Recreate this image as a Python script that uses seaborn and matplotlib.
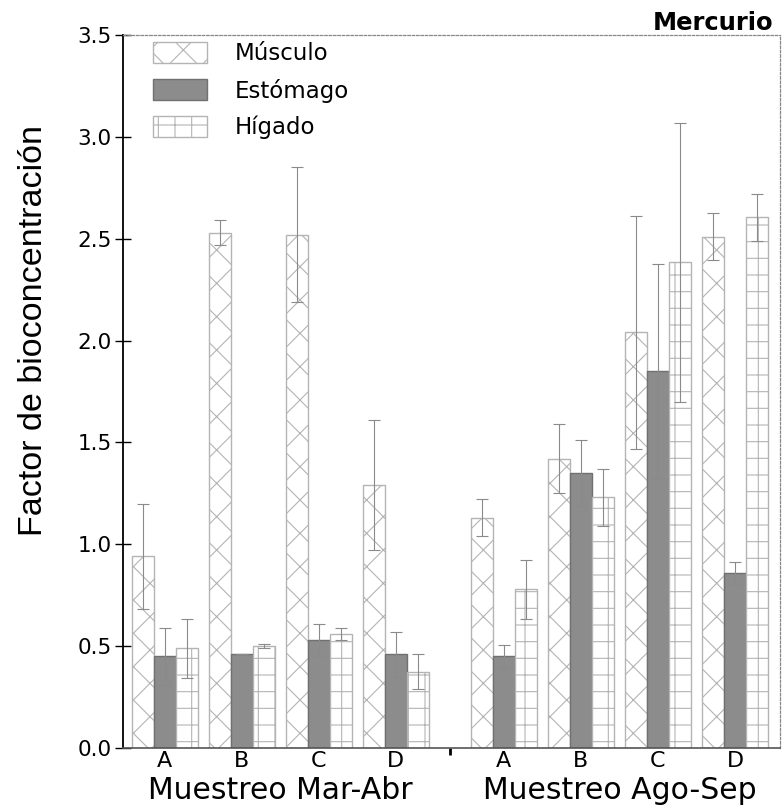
import numpy as np
import pandas as pd
import matplotlib
matplotlib.use("Agg")
import matplotlib.pyplot as plt
from matplotlib.patches import Patch
import seaborn as sns

# Bioconcentration factor of mercury per tissue, site and sampling period
sites = ["A", "B", "C", "D"]
periods = ["Muestreo Mar-Abr", "Muestreo Ago-Sep"]
tissues = ["Músculo", "Estómago", "Hígado"]

musculo_mar = [0.94, 2.53, 2.52, 1.29]
musculo_mar_err = [0.26, 0.06, 0.33, 0.32]
estomago_mar = [0.45, 0.46, 0.53, 0.46]
estomago_mar_err = [0.14, 0.0, 0.08, 0.11]
higado_mar = [0.49, 0.50, 0.56, 0.375]
higado_mar_err = [0.145, 0.01, 0.03, 0.085]

musculo_ago = [1.13, 1.42, 2.04, 2.51]
musculo_ago_err = [0.09, 0.17, 0.57, 0.115]
estomago_ago = [0.45, 1.35, 1.85, 0.86]
estomago_ago_err = [0.055, 0.16, 0.525, 0.055]
higado_ago = [0.78, 1.23, 2.385, 2.605]
higado_ago_err = [0.145, 0.14, 0.685, 0.115]

yticks = [0.0, 0.5, 1.0, 1.5, 2.0, 2.5, 3.0, 3.5]

# Build a long table; the second period is shifted right to leave a gap
period_gap = 1.406
values = {
    periods[0]: [(musculo_mar, musculo_mar_err), (estomago_mar, estomago_mar_err), (higado_mar, higado_mar_err)],
    periods[1]: [(musculo_ago, musculo_ago_err), (estomago_ago, estomago_ago_err), (higado_ago, higado_ago_err)],
}
rows = []
for p_idx, period in enumerate(periods):
    for t_idx, tissue in enumerate(tissues):
        vals, errs = values[period][t_idx]
        for s_idx, site in enumerate(sites):
            pos = s_idx + p_idx * (len(sites) - 1 + period_gap)
            rows.append(dict(periodo=period, sitio=site, tejido=tissue,
                             pos=pos, valor=vals[s_idx], error=errs[s_idx]))
df = pd.DataFrame(rows).sort_values(["tejido", "pos"])

sns.set_theme(style="ticks")
plt.rcParams["font.family"] = ["DejaVu Sans"]
plt.rcParams["hatch.linewidth"] = 0.8
for key in ("text.color", "axes.labelcolor", "xtick.color", "ytick.color"):
    plt.rcParams[key] = "black"

fig = plt.figure(figsize=(7.83, 8.08), dpi=100)
ax = fig.add_axes([0.1571, 0.0743, 0.8391, 0.8824])

face = {"Músculo": "white", "Estómago": "#8c8c8c", "Hígado": "white"}
edge = {"Músculo": "#b4b4b4", "Estómago": "#707070", "Hígado": "#b4b4b4"}
hatch = {"Músculo": "x", "Estómago": "", "Hígado": "+"}

sns.barplot(data=df, x="pos", y="valor", hue="tejido", hue_order=tissues,
            native_scale=True, width=0.857, dodge=True, errorbar=None,
            palette=face, legend=False, ax=ax)

for container, tissue in zip(ax.containers, tissues):
    sub = df[df["tejido"] == tissue].sort_values("pos")
    for bar, err in zip(container, sub["error"]):
        bar.set_facecolor(face[tissue])
        bar.set_edgecolor(edge[tissue])
        bar.set_hatch(hatch[tissue])
        bar.set_linewidth(1.0)
        ax.errorbar(bar.get_x() + bar.get_width() / 2, bar.get_height(),
                    yerr=err, fmt="none", ecolor="#8a8a8a", elinewidth=0.8,
                    capsize=4.3, capthick=0.8, zorder=5)

# Axes limits and ticks
centers = sorted(df["pos"].unique())
ax.set_xlim(centers[0] - 0.54, centers[-1] + 0.585)
ax.set_ylim(0, 3.5)
ax.set_yticks(yticks)
ax.set_yticklabels([f"{v:.1f}" for v in yticks])
ax.set_xticks(centers)
ax.set_xticklabels(sites * len(periods))
ax.set_xticks([(centers[3] + centers[4]) / 2], minor=True)
ax.tick_params(axis="x", which="major", length=0, pad=2, labelsize=16)
ax.tick_params(axis="x", which="minor", direction="out", length=5, width=2, color="black")
ax.tick_params(axis="y", direction="inout", length=12, width=1, color="black",
               labelsize=15.5, pad=2)
ax.set_xlabel("")

ax.spines["left"].set_color("black")
ax.spines["left"].set_linewidth(1.3)
ax.spines["bottom"].set_color("#555555")
ax.spines["bottom"].set_linewidth(1.2)
for spine in ("top", "right"):
    ax.spines[spine].set_visible(True)
    ax.spines[spine].set_color("#888888")
    ax.spines[spine].set_linewidth(0.9)
    ax.spines[spine].set_linestyle((0, (2, 1.5)))

# Period labels under each block of sites
trans = ax.get_xaxis_transform()
for p_idx, period in enumerate(periods):
    block = centers[p_idx * len(sites):(p_idx + 1) * len(sites)]
    ax.text(np.mean(block), -0.0715, period, transform=trans,
            ha="center", va="baseline", fontsize=21.5)

ax.set_ylabel("Factor de bioconcentración", fontsize=24.5,
              family=["Liberation Sans", "DejaVu Sans"])
ax.yaxis.set_label_coords(-0.112, 0.585)

ax.text(0.99, 1.007, "Mercurio", transform=ax.transAxes, ha="right",
        va="baseline", fontsize=17.5, fontweight="bold")

handles = [Patch(facecolor=face[t], edgecolor=edge[t], hatch=hatch[t], label=t)
           for t in tissues]
ax.legend(handles=handles, loc="upper left", bbox_to_anchor=(0.0457, 0.990),
          frameon=False, fontsize=16.5, borderpad=0, borderaxespad=0,
          handlelength=2.36, handleheight=1.0, handletextpad=1.22,
          labelspacing=0.58)

fig.savefig("out.png", dpi=100)
